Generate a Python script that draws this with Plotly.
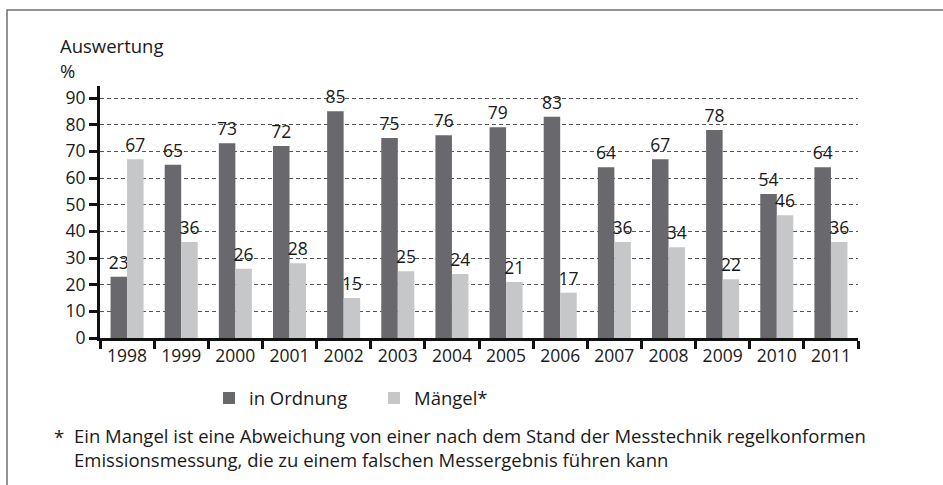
import plotly.graph_objects as go

years = ["1998", "1999", "2000", "2001", "2002", "2003", "2004", "2005", "2006", "2007", "2008", "2009", "2010", "2011"]
in_ordnung = [23, 65, 73, 72, 85, 75, 76, 79, 83, 64, 67, 78, 54, 64]
maengel = [67, 36, 26, 28, 15, 25, 24, 21, 17, 36, 34, 22, 46, 36]
y_ticks = [0, 10, 20, 30, 40, 50, 60, 70, 80, 90]

FONT = "Open Sans"
TXT = "#1a1a1a"
DARK = "#69696d"
LIGHT = "#c6c7c9"
NUM = 17.5
TXTSIZE = 18.5

fig = go.Figure()
fig.add_trace(go.Bar(x=years, y=in_ordnung, name="in Ordnung", marker=dict(color=DARK, line=dict(width=0)),
                     texttemplate="%{y}", textposition="outside", constraintext="none", cliponaxis=False,
                     textfont=dict(family=FONT, size=NUM, color=TXT)))
fig.add_trace(go.Bar(x=years, y=maengel, name="Mängel*", marker=dict(color=LIGHT, line=dict(width=0)),
                     texttemplate="%{y}", textposition="outside", constraintext="none", cliponaxis=False,
                     textfont=dict(family=FONT, size=NUM, color=TXT)))

PW, PH = 758, 252
fig.update_layout(
    width=943, height=485,
    margin=dict(l=100, r=85, t=86, b=147),
    paper_bgcolor="white", plot_bgcolor="white",
    font=dict(family=FONT, size=NUM, color=TXT),
    barmode="group", bargap=0.39, bargroupgap=0,
    showlegend=True,
    legend=dict(orientation="h", x=109 / PW, y=-0.165, xanchor="left", yanchor="top",
                font=dict(family=FONT, size=TXTSIZE, color=TXT), entrywidth=120, bgcolor="rgba(0,0,0,0)"),
    xaxis=dict(type="category", tickson="boundaries", ticks="outside", ticklen=8, tickwidth=2.5, tickcolor="#111",
               showline=True, linewidth=3, linecolor="#111", showgrid=False,
               tickfont=dict(family=FONT, size=NUM, color=TXT)),
    yaxis=dict(range=[0, 94.5], tickvals=y_ticks, ticks="outside", ticklen=8, tickwidth=2.5, tickcolor="#111",
               showline=True, linewidth=3, linecolor="#111",
               showgrid=True, gridcolor="#555", gridwidth=1, griddash="4px,3px", zeroline=False,
               tickfont=dict(family=FONT, size=NUM, color=TXT)),
    shapes=[dict(type="rect", xref="paper", yref="paper", x0=-93 / PW, x1=(943 - 100 + 20) / PW,
                 y0=-(485 - 338 + 20) / PH, y1=(338 - 10) / PH,
                 line=dict(color="#707070", width=1.5), fillcolor="rgba(0,0,0,0)", layer="below")],
    annotations=[
        dict(text="Auswertung", xref="paper", yref="paper", x=-42 / PW, y=(338 - 46) / PH,
             xanchor="left", yanchor="middle", showarrow=False, font=dict(family=FONT, size=TXTSIZE, color=TXT)),
        dict(text="%", xref="paper", yref="paper", x=-42 / PW, y=(338 - 70) / PH,
             xanchor="left", yanchor="middle", showarrow=False, font=dict(family=FONT, size=TXTSIZE, color=TXT)),
        dict(text="*", xref="paper", yref="paper", x=-48 / PW, y=(338 - 436) / PH,
             xanchor="left", yanchor="middle", showarrow=False, font=dict(family=FONT, size=TXTSIZE, color=TXT)),
        dict(text="Ein Mangel ist eine Abweichung von einer nach dem Stand der Messtechnik regelkonformen"
                  "<br>Emissionsmessung, die zu einem falschen Messergebnis führen kann",
             xref="paper", yref="paper", x=-28 / PW, y=(338 - 447) / PH, align="left",
             xanchor="left", yanchor="middle", showarrow=False, font=dict(family=FONT, size=TXTSIZE, color=TXT)),
    ],
)

fig.write_html("out.html", config={"displayModeBar": False},
               post_script="document.body.style.margin='0';document.body.style.overflow='hidden';")
